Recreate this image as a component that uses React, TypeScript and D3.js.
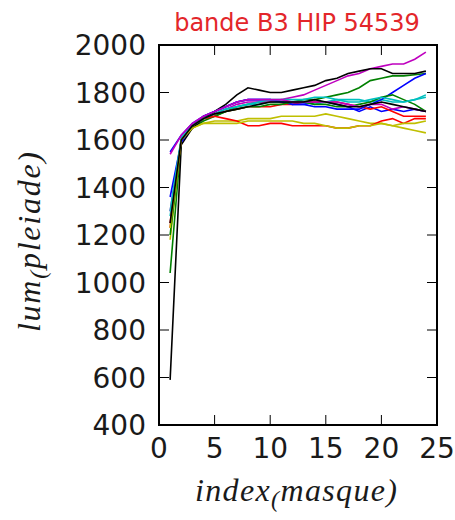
import React from "react";
import * as d3 from "d3";

const W = 455;
const H = 520;

const xIndex = d3.range(1, 25);

const xTicks = [0, 5, 10, 15, 20, 25];
const yTicks = [400, 600, 800, 1000, 1200, 1400, 1600, 1800, 2000];

const colors = ["#0000ff", "#008000", "#ff0000", "#00bfbf", "#bf00bf", "#bfbf00", "#000000"];

const s1 = [1550,1620,1670,1700,1720,1740,1760,1770,1770,1770,1760,1750,1750,1760,1760,1750,1740,1720,1740,1720,1730,1720,1730,1720];
const s2 = [1040,1600,1650,1680,1700,1720,1740,1750,1760,1760,1760,1760,1770,1770,1780,1790,1800,1820,1850,1860,1870,1870,1875,1880];
const s3 = [1230,1600,1660,1690,1710,1720,1730,1740,1740,1740,1750,1750,1760,1760,1760,1760,1750,1740,1730,1740,1720,1700,1700,1700];
const s4 = [1280,1600,1660,1690,1710,1730,1740,1750,1750,1760,1760,1760,1760,1750,1760,1770,1770,1770,1760,1770,1760,1760,1770,1790];
const s5 = [1300,1600,1660,1690,1710,1730,1750,1760,1760,1760,1770,1780,1790,1810,1830,1850,1870,1880,1900,1910,1920,1920,1940,1970];
const s6 = [1180,1600,1650,1670,1680,1680,1680,1690,1690,1690,1700,1700,1700,1700,1710,1700,1690,1680,1670,1670,1660,1650,1640,1630];
const s7 = [590,1580,1650,1690,1720,1750,1790,1820,1810,1800,1800,1810,1820,1830,1850,1860,1880,1890,1900,1900,1880,1880,1880,1890];
const s8 = [1360,1590,1660,1700,1720,1740,1760,1770,1770,1770,1760,1750,1750,1740,1740,1730,1730,1730,1750,1770,1800,1830,1860,1880];
const s9 = [1200,1600,1660,1690,1700,1720,1730,1740,1740,1750,1750,1760,1760,1750,1750,1740,1740,1750,1760,1780,1790,1770,1750,1720];
const s10 = [1250,1600,1660,1690,1700,1690,1680,1660,1660,1670,1670,1660,1660,1660,1660,1650,1650,1660,1660,1680,1690,1670,1690,1690];
const s11 = [1300,1610,1660,1690,1710,1730,1740,1750,1760,1770,1770,1770,1770,1780,1780,1770,1760,1760,1770,1780,1770,1760,1770,1780];
const s12 = [1540,1620,1670,1700,1720,1740,1760,1770,1770,1770,1770,1760,1760,1760,1760,1760,1750,1740,1750,1750,1730,1740,1730,1720];
const s13 = [1230,1600,1650,1670,1670,1670,1670,1680,1680,1680,1680,1680,1670,1670,1660,1650,1650,1660,1660,1670,1660,1670,1670,1680];
const s14 = [1250,1600,1660,1690,1710,1720,1730,1740,1750,1760,1760,1760,1760,1770,1760,1750,1740,1740,1750,1760,1750,1740,1730,1720];

const series = [s1, s2, s3, s4, s5, s6, s7, s8, s9, s10, s11, s12, s13, s14];

const left = 159, right = 437, top = 45, bottom = 425;

export default function App() {
  const x = d3.scaleLinear().domain([0, 25]).range([left, right]);
  const y = d3.scaleLinear().domain([400, 2000]).range([bottom, top]);
  const line = d3.line<number>().x((_, i) => x(xIndex[i])).y((d) => y(d));
  const tickLen = 10;
  const fontSans = "DejaVu Sans";
  const fontMath = "Liberation Serif";
  return (
    <svg width={W} height={H} style={{ position: "absolute", left: 0, top: 0, background: "#fff" }}>
      <rect x={0} y={0} width={W} height={H} fill="#fff" />
      <text x={297} y={31} textAnchor="middle" fontFamily={fontSans} fontSize={24} fill="#e3262a">
        bande B3 HIP 54539
      </text>
      <g clipPath="url(#clip)">
        <clipPath id="clip">
          <rect x={left} y={top} width={right - left} height={bottom - top} />
        </clipPath>
        {series.map((s, i) => (
          <path key={i} d={line(s) || ""} fill="none" stroke={colors[i % colors.length]} strokeWidth={1.6} />
        ))}
      </g>
      {xTicks.map((t) => (
        <g key={"x" + t}>
          <line x1={x(t)} x2={x(t)} y1={bottom} y2={bottom - tickLen} stroke="#000" strokeWidth={1} />
          <line x1={x(t)} x2={x(t)} y1={top} y2={top + tickLen} stroke="#000" strokeWidth={1} />
          <text x={x(t)} y={458} textAnchor="middle" fontFamily={fontSans} fontSize={28} fill="#1a1a1a">
            {t}
          </text>
        </g>
      ))}
      {yTicks.map((t) => (
        <g key={"y" + t}>
          <line x1={left} x2={left + tickLen} y1={y(t)} y2={y(t)} stroke="#000" strokeWidth={1} />
          <line x1={right} x2={right - tickLen} y1={y(t)} y2={y(t)} stroke="#000" strokeWidth={1} />
          <text x={146} y={y(t)} dy="0.36em" textAnchor="end" fontFamily={fontSans} fontSize={28} fill="#1a1a1a">
            {t}
          </text>
        </g>
      ))}
      <rect x={left} y={top} width={right - left} height={bottom - top} fill="none" stroke="#000" strokeWidth={2} />
      <text x={195} y={501} fontFamily={fontMath} fontStyle="italic" fontSize={32} fill="#1a1a1a" textLength={202} lengthAdjust="spacing">
        index<tspan dy={6} fontSize={24}>(</tspan><tspan dy={-6}>masque)</tspan>
      </text>
      <g transform="translate(40,332) rotate(-90)">
        <text x={0} y={0} fontFamily={fontMath} fontStyle="italic" fontSize={32} fill="#1a1a1a" textLength={180} lengthAdjust="spacing">
          lum<tspan dy={6} fontSize={24}>(</tspan><tspan dy={-6}>pleiade)</tspan>
        </text>
      </g>
    </svg>
  );
}
